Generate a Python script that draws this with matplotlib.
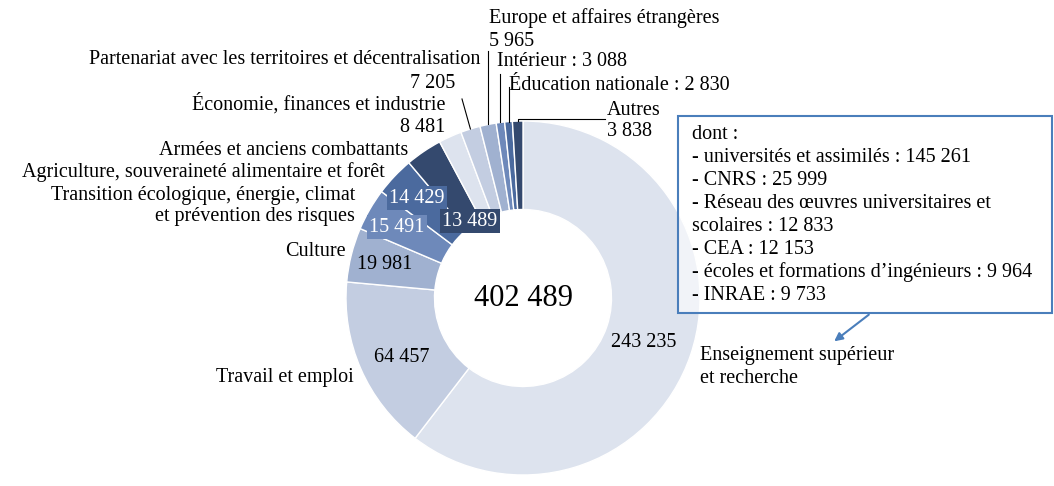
import numpy as np
import matplotlib.pyplot as plt
from matplotlib.patches import Rectangle

plt.rcParams['font.family'] = ['Liberation Serif', 'DejaVu Serif']

# data (from top, clockwise)
categories = ["Enseignement supérieur\net recherche", "Travail et emploi", "Culture",
              "Transition écologique, énergie, climat\net prévention des risques",
              "Agriculture, souveraineté alimentaire et forêt",
              "Armées et anciens combattants",
              "Économie, finances et industrie",
              "Partenariat avec les territoires et décentralisation",
              "Europe et affaires étrangères", "Intérieur", "Éducation nationale", "Autres"]
values = [243235, 64457, 19981, 15491, 14429, 13489, 8481, 7205, 5965, 3088, 2830, 3838]

detail_labels = ["universités et assimilés", "CNRS",
                 "Réseau des œuvres universitaires et\nscolaires", "CEA",
                 "écoles et formations d’ingénieurs", "INRAE"]
detail_values = [145261, 25999, 12833, 12153, 9964, 9733]

palette = ['#dde3ee', '#c3cde1', '#a0b1d0', '#6e89ba', '#4b6a9e', '#34496e']
colors = [palette[i % 6] for i in range(len(values))]


def fmt(v):
    return f"{v:,}".replace(",", " ")


W, H = 1054, 486
cx, cy, R = 523, 298, 177
fs = 14.5

fig = plt.figure(figsize=(W / 100, H / 100), dpi=100)
ax = fig.add_axes([0, 0, 1, 1])

# y axis inverted -> counterclock=True draws clockwise on screen
wedges, _ = ax.pie(values, colors=colors, startangle=-90, counterclock=True,
                   center=(cx, cy), radius=R,
                   wedgeprops=dict(width=R * 0.5, edgecolor='white', linewidth=1.0))
ax.set_aspect('equal')
ax.set_xlim(0, W)
ax.set_ylim(H, 0)
ax.axis('off')


def outer_pt(i, r=R):
    w = wedges[i]
    a = np.deg2rad((w.theta1 + w.theta2) / 2)
    return cx + r * np.cos(a), cy + r * np.sin(a)


# center total
ax.text(cx, cy, fmt(sum(values)), ha='center', va='center', fontsize=22)

# values inside the ring
val_pos = [(644, 342), (402, 357), (385, 264), (397, 227), (417, 198), (470, 221)]
for i, (x, y) in enumerate(val_pos):
    if i in (3, 4, 5):
        ax.text(x, y, fmt(values[i]), ha='center', va='center', fontsize=fs, color='white',
                bbox=dict(boxstyle='square,pad=0.1', fc=colors[i], ec='none'))
    else:
        ax.text(x, y, fmt(values[i]), ha='center', va='center', fontsize=fs)

# category labels
ax.text(700, 367, categories[0], ha='left', va='center', fontsize=fs, linespacing=1.3)
ax.text(354, 377, categories[1], ha='right', va='center', fontsize=fs)
ax.text(346, 251, categories[2], ha='right', va='center', fontsize=fs)
ax.text(355, 206, categories[3], ha='right', va='center', fontsize=fs, linespacing=1.15)
ax.text(385, 172, categories[4], ha='right', va='center', fontsize=fs)
ax.text(408, 150, categories[5], ha='right', va='center', fontsize=fs)
ax.text(445, 104, categories[6], ha='right', va='center', fontsize=fs)
ax.text(445, 127, fmt(values[6]), ha='right', va='center', fontsize=fs)
ax.text(480, 60, categories[7], ha='right', va='center', fontsize=fs)
ax.text(455, 84, fmt(values[7]), ha='right', va='center', fontsize=fs)
ax.text(489, 18, categories[8], ha='left', va='center', fontsize=fs)
ax.text(489, 41, fmt(values[8]), ha='left', va='center', fontsize=fs)
ax.text(497, 62, f"{categories[9]} : {fmt(values[9])}", ha='left', va='center', fontsize=fs)
ax.text(509, 85, f"{categories[10]} : {fmt(values[10])}", ha='left', va='center', fontsize=fs)
ax.text(607, 110, categories[11], ha='left', va='center', fontsize=fs)
ax.text(607, 131, fmt(values[11]), ha='left', va='center', fontsize=fs)

# leader lines
lc = dict(color='black', lw=0.8)
x7, y7 = outer_pt(7)
ax.plot([462, x7], [99, y7], **lc)
x8, y8 = outer_pt(8)
ax.plot([x8, x8], [51, y8], **lc)
x9, y9 = outer_pt(9)
ax.plot([x9, x9], [74, y9], **lc)
x10, y10 = outer_pt(10)
ax.plot([x10, x10], [87, y10], **lc)
x11, y11 = outer_pt(11)
ax.plot([x11, x11, 605], [y11, 119, 119], **lc)

# detail box
blue = '#4a7ebb'
ax.add_patch(Rectangle((678, 116), 374, 197, fc=(1, 1, 1, 0.6), ec=blue, lw=1.5, zorder=3))
lines = ["dont :"] + [f"- {l} : {fmt(v)}" for l, v in zip(detail_labels, detail_values)]
lines = "\n".join(lines).split("\n")
for k, s in enumerate(lines):
    ax.text(692, 134 + k * 23, s, ha='left', va='center', fontsize=fs, zorder=4)

ax.annotate("", xy=(832, 343), xytext=(871, 313),
            arrowprops=dict(arrowstyle='-|>', color=blue, lw=1.5, mutation_scale=12))

fig.savefig("out.png", dpi=100)
